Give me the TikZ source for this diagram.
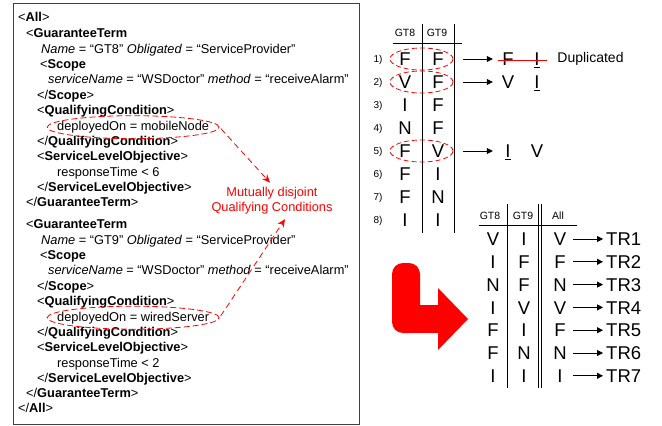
\documentclass[tikz,border=0pt]{standalone}
\usepackage{fontspec}
\setmainfont{Liberation Sans}
\usetikzlibrary{arrows.meta,positioning,calc,shapes.geometric}

\tikzset{
  xml/.style={anchor=base west, inner sep=0pt, font=\fontsize{12.8}{15}\selectfont},
  ring/.style={draw=red, ellipse, dash pattern=on 6pt off 3pt, line width=0.8pt,
    minimum width=172pt, minimum height=23pt, inner sep=0pt},
  pairring/.style={draw=red, ellipse, dash pattern=on 5pt off 3pt, line width=0.8pt,
    minimum width=63pt, minimum height=22pt, inner sep=0pt},
  disjoint/.style={red, dash pattern=on 6pt off 4pt, line width=0.8pt,
    -{Stealth[length=8pt,width=7pt]}},
  head/.style={inner sep=0pt, text height=7.5pt, text depth=0pt, font=\fontsize{10.5}{12}\selectfont},
  cell/.style={inner sep=0pt, minimum width=14pt, text height=13.3pt, text depth=0pt,
    font=\fontsize{18.5}{20}\selectfont},
  rowno/.style={inner sep=0pt, text height=7.2pt, text depth=0pt, font=\fontsize{10}{12}\selectfont},
  pointer/.style={line width=0.8pt, -{Triangle[length=6pt,width=6pt]}},
}

\begin{document}
\begin{tikzpicture}[x=1pt, y=-1pt]
  \useasboundingbox (0,0) rectangle (662,426);

  % XML listing of the two guarantee terms
  \draw[line width=0.8pt, black!75] (13,3) rectangle (359,424);
  \node[xml] (all) at (18,21.5) {<\textbf{All}>};
  \foreach \g/\off/\dep/\rt in {8/0/mobileNode/6,9/190.5/wiredServer/2}{
    \begin{scope}[shift={(0,\off)}]
      \node[xml] (gt\g) at (26,37.5) {<\textbf{GuaranteeTerm}};
      \node[xml] (nm\g) at (41,53.5) {\textit{Name} = “GT\g” \textit{Obligated} = “ServiceProvider”};
      \node[xml] (sc\g) at (40,68.5) {<\textbf{Scope}};
      \node[xml] (sv\g) at (48,83.5) {\textit{serviceName} = “WSDoctor” \textit{method} = “receiveAlarm”};
      \node[xml] (esc\g) at (37,99.5) {</\textbf{Scope}>};
      \node[xml] (qc\g) at (37,114.5) {<\textbf{QualifyingCondition}>};
      \node[xml] (dp\g) at (57,130.5) {deployedOn = \dep};
      \node[xml] (eqc\g) at (37,145.5) {</\textbf{QualifyingCondition}>};
      \node[xml] (slo\g) at (37,160.5) {<\textbf{ServiceLevelObjective}>};
      \node[xml] (rt\g) at (57,176.5) {responseTime < \rt};
      \node[xml] (eslo\g) at (37,191.5) {</\textbf{ServiceLevelObjective}>};
      \node[xml] (egt\g) at (26,206.5) {</\textbf{GuaranteeTerm}>};
      \node[ring] (ring\g) at (dp\g.center) {};
    \end{scope}
  }
  \node[xml] (eall) at (18,412.5) {</\textbf{All}>};

  % note on the two conditions
  \node[red, inner sep=2pt, align=center, font=\fontsize{12.8}{15}\selectfont]
    (disj) at (272,200.5) {Mutually disjoint\\Qualifying Conditions};
  \draw[disjoint, shorten <=2pt, shorten >=3pt] (ring8.east) -- (disj.north);
  \draw[disjoint, shorten <=2pt] (ring9.east) -- ($(disj.south)+(13,3)$);

  % all combinations of GT8 and GT9
  \node[head] (h8) at (405,33) {GT8};
  \node[head] (h9) at (437,33) {GT9};
  \draw[line width=0.8pt] (393,43) -- (462,43);
  \draw[line width=0.8pt] (422,24) -- (422,233);
  \draw[line width=0.8pt] (454,24) -- (454,233);
  \foreach \a/\b [count=\i] in {F/F,V/F,I/F,N/F,F/V,F/I,F/N,I/I}{
    \node[rowno] (n\i) at (378,{59+(\i-1)*23}) {\i)};
    \node[cell] (a\i) at (405,{59+(\i-1)*23}) {\a};
    \node[cell] (b\i) at (438,{59+(\i-1)*23}) {\b};
  }
  \foreach \i in {1,2,5}
    \node[pairring] (r\i) at ($(a\i)!0.5!(b\i)$) {};

  % rows that get reworked
  \node[cell] (d1) at (508,59) {F};
  \node[cell] (e1) at (537,59) {\underline{I}};
  \node[cell] (d2) at (508,82) {V};
  \node[cell] (e2) at (537,82) {\underline{I}};
  \node[cell] (d5) at (508,151) {\underline{I}};
  \node[cell] (e5) at (537,151) {V};
  \foreach \i in {1,2,5}
    \draw[pointer, shorten <=10pt, shorten >=8pt] (r\i.east) -- (d\i.west);
  \draw[red, line width=0.8pt] ($(d1.west)+(-3,1)$) -- ($(e1.east)+(3,1)$);
  \node[right=13pt of e1, inner sep=0pt, font=\fontsize{14}{16}\selectfont] (dup) {Duplicated};

  % bent arrow
  \fill[red, rounded corners=11pt] (392,263) rectangle (420,333);
  \fill[red] (406,305) rectangle (440,333);
  \fill[red] (438,288) -- (468,319) -- (438,350) -- cycle;

  % resulting table
  \node[head] (g8) at (490,216) {GT8};
  \node[head] (g9) at (523,216) {GT9};
  \node[head] (gall) at (558,216) {All};
  \draw[line width=0.8pt] (479,225) -- (577,225);
  \draw[line width=0.8pt] (507,204) -- (507,388);
  \draw[line width=0.8pt] (538,204) -- (538,388);
  \draw[line width=0.8pt] (541,204) -- (541,388);
  \foreach \p/\q/\s [count=\i] in {V/I/V,I/F/F,N/F/N,I/V/V,F/I/F,F/N/N,I/I/I}{
    \node[cell] (p\i) at (493,{239+(\i-1)*22.8}) {\p};
    \node[cell] (q\i) at (524,{239+(\i-1)*22.8}) {\q};
    \node[cell] (s\i) at (560,{239+(\i-1)*22.8}) {\s};
    \node[cell, anchor=west] (tr\i) at (606,{239+(\i-1)*22.8}) {TR\i};
    \draw[pointer, shorten <=6pt, shorten >=3pt] (s\i.east) -- (tr\i.west);
  }
\end{tikzpicture}
\end{document}
